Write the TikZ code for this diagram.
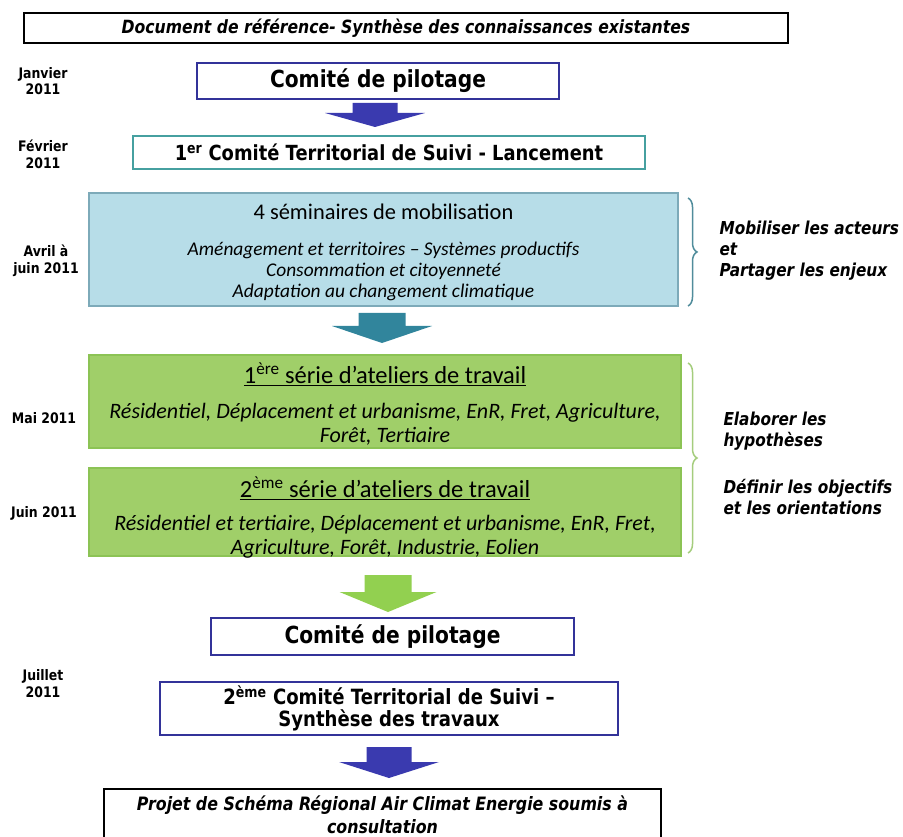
\documentclass[tikz,border=0pt]{standalone}
\usepackage{fontspec}
\setmainfont{Carlito}
\newfontfamily\tah[FakeStretch=0.86]{DejaVu Sans}
\usetikzlibrary{decorations.pathreplacing}
\definecolor{navy}{RGB}{51,51,153}
\definecolor{arrblue}{RGB}{58,58,175}
\definecolor{tealb}{RGB}{70,160,160}
\definecolor{semfill}{RGB}{183,221,232}
\definecolor{semdraw}{RGB}{125,170,185}
\definecolor{arrteal}{RGB}{49,133,156}
\definecolor{grfill}{RGB}{160,207,105}
\definecolor{grdraw}{RGB}{140,195,85}
\definecolor{arrgreen}{RGB}{146,208,80}
\definecolor{bracebl}{RGB}{80,140,155}
\definecolor{bracegr}{RGB}{165,205,125}
\newcommand\fsz[2]{\fontsize{#1}{#2}\selectfont}
% colour, cx, top, base, tip, shaft half, head half
\newcommand\blockarrow[7]{%
  \fill[#1] (#2-#6,#3) -- (#2+#6,#3) -- (#2+#6,#4) -- (#2+#7,#4) -- (#2,#5)
    -- (#2-#7,#4) -- (#2-#6,#4) -- cycle;}
\begin{document}
\begin{tikzpicture}[x=1pt,y=-1pt,
  box/.style={rectangle, inner sep=0pt, outer sep=0pt, fill=white},
  blackbox/.style={box, draw=black, line width=2.6pt},
  navybox/.style={box, draw=navy, line width=1.6pt},
  tealbox/.style={box, draw=tealb, line width=1.6pt},
  sembox/.style={box, draw=semdraw, fill=semfill, line width=1.6pt},
  grbox/.style={box, draw=grdraw, fill=grfill, line width=1.2pt},
  datelab/.style={font=\tah\bfseries\fsz{14.5}{16.5}, align=center},
  sidelab/.style={anchor=west, font=\tah\bfseries\itshape\fsz{17.8}{21}, align=left},
  bigbold/.style={font=\tah\bfseries\fsz{23.5}{26}},
  title/.style={font=\fsz{22.4}{24}},
  gtitle/.style={font=\fsz{24.5}{26}},
  itl/.style={font=\itshape\fsz{19.4}{21}, align=center},
  gitl/.style={font=\itshape\fsz{22}{24}, align=center},
  bracedec/.style={decorate, decoration={brace, amplitude=9pt}, line width=1.5pt}
]
\useasboundingbox (0,0) rectangle (903,837);

% top box
\node[blackbox, minimum width=764pt, minimum height=30pt,
  font=\tah\bfseries\itshape\fsz{18.2}{20}] (doc) at (406,28)
  {Document de référence- Synthèse des connaissances existantes};

% dates
\node[datelab] (d1) at (43,81) {Janvier\\2011};
\node[datelab] (d2) at (43,154.5) {Février\\2011};
\node[datelab] (d3) at (46,261) {Avril à\\juin 2011};
\node[datelab] (d4) at (44,418) {Mai 2011};
\node[datelab] (d5) at (44,513) {Juin 2011};
\node[datelab] (d6) at (43,683.5) {Juillet\\2011};

% comite 1
\node[navybox, minimum width=362pt, minimum height=36pt, bigbold] (cp1) at (378,81) {Comité de pilotage};
\blockarrow{arrblue}{375}{103}{113}{127}{22.5}{50}
% lancement
\node[tealbox, minimum width=512pt, minimum height=33pt,
  font=\tah\bfseries\fsz{20.8}{23}] (cts1) at (389,152.5)
  {1\textsuperscript{er} Comité Territorial de Suivi - Lancement};

% seminaires
\node[sembox, minimum width=589pt, minimum height=113pt] (sem) at (383.5,249.5) {};
\node[title] (semT) at (383.5,212) {4 séminaires de mobilisation};
\node[itl] (semL) at (383.5,271.5) {Aménagement et territoires – Systèmes productifs\\Consommation et citoyenneté\\Adaptation au changement climatique};
\draw[bracebl, bracedec] (688,198) -- (688,306);
\node[sidelab] (r1) at (716,251) {Mobiliser les acteurs\\et\\Partager les enjeux};

\blockarrow{arrteal}{382}{313}{326}{343}{23.5}{50}

% ateliers
\node[grbox, minimum width=592pt, minimum height=93pt] (at1) at (385,401.5) {};
\node[gtitle] (at1T) at (385,374) {\underline{1\textsuperscript{ère} série d’ateliers de travail}};
\node[gitl] (at1L) at (385,424) {Résidentiel, Déplacement et urbanisme, EnR, Fret, Agriculture,\\Forêt, Tertiaire};
\node[grbox, minimum width=592pt, minimum height=88pt] (at2) at (385,512) {};
\node[gtitle] (at2T) at (385,488) {\underline{2\textsuperscript{ème} série d’ateliers de travail}};
\node[gitl] (at2L) at (385,537) {Résidentiel et tertiaire, Déplacement et urbanisme, EnR, Fret,\\Agriculture, Forêt, Industrie, Eolien};
\draw[bracegr, bracedec] (688,363) -- (688,553);
\node[sidelab] (r2) at (720,431.5) {Elaborer les\\hypothèses};
\node[sidelab] (r3) at (720,497.5) {Définir les objectifs\\et les orientations};

\blockarrow{arrgreen}{388}{575}{592}{612}{23.5}{48.5}

% comite 2
\node[navybox, minimum width=363pt, minimum height=37pt, bigbold] (cp2) at (392.5,636.5) {Comité de pilotage};
\node[navybox, minimum width=458pt, minimum height=53pt, align=center,
  font=\tah\bfseries\fsz{21}{22}] (cts2) at (389,708.5)
  {2\textsuperscript{ème} Comité Territorial de Suivi –\\Synthèse des travaux};
\blockarrow{arrblue}{389}{747}{762}{778}{22.5}{50}

% final box (cut by the page edge)
\node[blackbox, minimum width=557pt, minimum height=70pt, anchor=north] (proj) at (382.5,789) {};
\node[font=\tah\bfseries\itshape\fsz{18.4}{23}, align=center] (projT) at (382.5,814.5)
  {Projet de Schéma Régional Air Climat Energie soumis à\\consultation};
\end{tikzpicture}
\end{document}
